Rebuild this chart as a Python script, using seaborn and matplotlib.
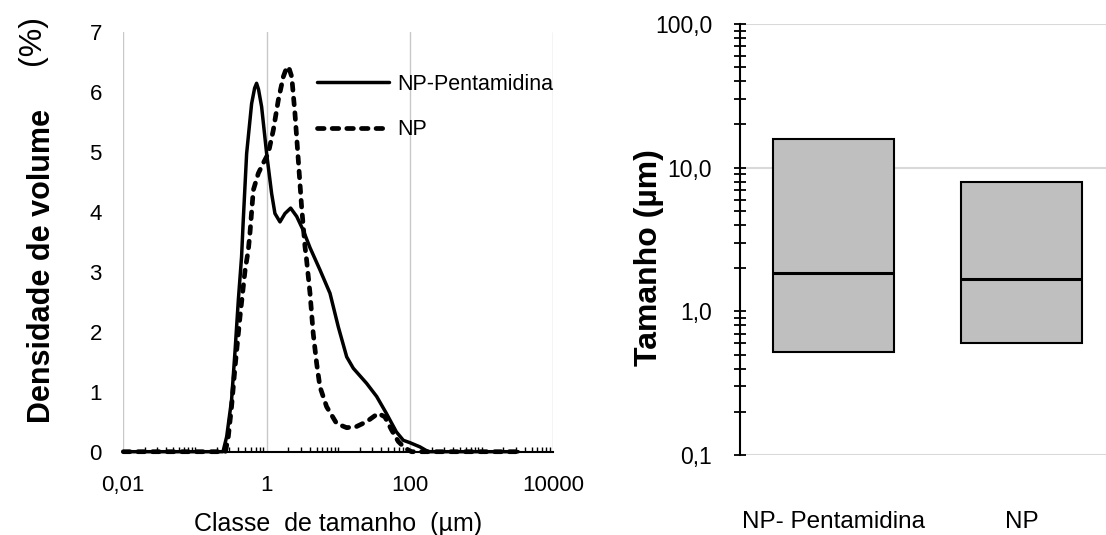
import numpy as np
import pandas as pd
import matplotlib
matplotlib.use("Agg")
import matplotlib.pyplot as plt
import seaborn as sns
from matplotlib.ticker import FixedLocator, FixedFormatter, LogLocator, NullFormatter

# ---------------- Left panel: volume density distribution ----------------
np_pent_size = [0.01, 0.246, 0.277, 0.324, 0.363, 0.403, 0.447, 0.472, 0.526, 0.617,
                0.68, 0.724, 0.77, 0.851, 1.0, 1.175, 1.306, 1.535, 1.803, 2.163,
                2.63, 3.24, 4.03, 5.55, 7.66, 10.0, 13.1, 16.2, 24.8, 34.3,
                46.8, 64.6, 80.7, 100.0, 138.0, 180.0, 3240.0]
np_pent_vol = [0.0, 0.0, 0.25, 0.86, 1.69, 2.53, 3.25, 3.86, 4.97, 5.8,
               6.06, 6.14, 6.04, 5.75, 4.97, 4.3, 3.97, 3.83, 3.97, 4.06,
               3.92, 3.69, 3.4, 3.03, 2.64, 2.08, 1.58, 1.39, 1.14, 0.92,
               0.64, 0.33, 0.19, 0.15, 0.08, 0.0, 0.0]

np_size = [0.01, 0.266, 0.292, 0.324, 0.363, 0.425, 0.501, 0.555, 0.585, 0.652,
           0.766, 0.897, 1.054, 1.239, 1.455, 1.71, 1.86, 1.963, 2.08, 2.239,
           2.483, 2.767, 3.076, 3.428, 3.614, 4.03, 4.467, 4.989, 5.546, 6.87,
           9.48, 13.1, 18.0, 24.8, 36.1, 44.7, 55.5, 68.7, 85.1, 105.0, 3240.0]
np_vol = [0.0, 0.0, 0.25, 0.75, 1.42, 2.25, 3.03, 3.36, 3.64, 4.36,
          4.64, 4.81, 4.97, 5.36, 5.86, 6.25, 6.37, 6.42, 6.37, 6.25,
          5.64, 4.86, 4.08, 3.42, 3.19, 2.64, 1.97, 1.47, 1.08, 0.75,
          0.47, 0.40, 0.42, 0.50, 0.64, 0.58, 0.36, 0.17, 0.06, 0.0, 0.0]

series_labels = ["NP-Pentamidina", "NP"]
x_tick_values = [0.01, 1, 100, 10000]
x_tick_labels = ["0,01", "1", "100", "10000"]
y_tick_values = [0, 1, 2, 3, 4, 5, 6, 7]
y_tick_labels = ["0", "1", "2", "3", "4", "5", "6", "7"]

# ---------------- Right panel: D10 / D50 / D90 boxes ----------------
categories = ["NP- Pentamidina", "NP"]
d10 = [0.52, 0.60]
d50 = [1.84, 1.68]
d90 = [15.8, 7.9]
size_tick_values = [0.1, 1, 10, 100]
size_tick_labels = ["0,1", "1,0", "10,0", "100,0"]

# ---------------- Figure ----------------
sns.set_theme(style="white")
plt.rcParams["font.family"] = ["Liberation Sans", "DejaVu Sans"]

W, H = 1106, 535
fig = plt.figure(figsize=(W / 100, H / 100), dpi=100)

def ax_rect(l, t, r, b):
    return [l / W, (H - b) / H, (r - l) / W, (b - t) / H]

ax1 = fig.add_axes(ax_rect(123.3, 31.7, 553.3, 451.7))
ax2 = fig.add_axes(ax_rect(740, 24, 1106, 455))

# Left panel
ax1.set_xscale("log")
sns.lineplot(x=np_pent_size, y=np_pent_vol, ax=ax1, color="black", linewidth=2.5,
             label=series_labels[0], estimator=None, sort=False,
             solid_capstyle="round", solid_joinstyle="round",
             clip_on=False, zorder=4)
sns.lineplot(x=np_size, y=np_vol, ax=ax1, color="black", linewidth=3.4,
             label=series_labels[1], estimator=None, sort=False,
             linestyle=(0, (1.4, 1.7)), dash_capstyle="round", dash_joinstyle="round",
             clip_on=False, zorder=5)

ax1.set_xlim(0.01, 10000)
ax1.set_ylim(0, 7)
ax1.xaxis.set_major_locator(FixedLocator(x_tick_values))
ax1.xaxis.set_major_formatter(FixedFormatter(x_tick_labels))
ax1.xaxis.set_minor_locator(LogLocator(base=10, subs=np.arange(1, 10), numticks=100))
ax1.xaxis.set_minor_formatter(NullFormatter())
ax1.yaxis.set_major_locator(FixedLocator(y_tick_values))
ax1.yaxis.set_major_formatter(FixedFormatter(y_tick_labels))
ax1.tick_params(axis="x", which="major", length=0, pad=17, labelsize=16, colors="black")
ax1.tick_params(axis="x", which="minor", bottom=True, direction="in", length=3.6,
                width=1.0, color="black")
ax1.tick_params(axis="y", which="both", length=0, pad=15.5, labelsize=16, colors="black")
ax1.grid(axis="x", which="major", color="#c8c8c8", linewidth=1.0)
ax1.grid(axis="y", visible=False)
for s in ["left", "top", "right"]:
    ax1.spines[s].set_visible(False)
ax1.spines["bottom"].set_color("black")
ax1.spines["bottom"].set_linewidth(1.5)
ax1.set_xlabel("Classe  de tamanho  (µm)", fontsize=18, color="black", labelpad=11)
ax1.set_ylabel("")
leg = ax1.legend(loc="upper left", bbox_to_anchor=(0.45, 0.900), frameon=False,
                 fontsize=15.5, handlelength=3.35, handletextpad=0.37,
                 labelspacing=1.14, borderpad=0, borderaxespad=0)
for t in leg.get_texts():
    t.set_color("black")

fig.text(50 / W, (H - 423) / H, "Densidade de volume", rotation=90,
         rotation_mode="anchor", ha="left", va="baseline",
         fontsize=22, fontweight="bold", color="black")
fig.text(40 / W, (H - 65) / H, "(%)", rotation=90,
         rotation_mode="anchor", ha="left", va="baseline",
         fontsize=23, color="black")

# Right panel
rows = []
for cat, a, b, c in zip(categories, d10, d50, d90):
    for v in (a, a, b, c, c):
        rows.append({"amostra": cat, "tamanho": v})
df_box = pd.DataFrame(rows)

ax2.set_yscale("log")
sns.boxplot(data=df_box, x="amostra", y="tamanho", order=categories, ax=ax2,
            width=0.644, color="#bfbfbf", linecolor="black", linewidth=1.5,
            whis=0, showcaps=False, fliersize=0, saturation=1,
            medianprops=dict(linewidth=2.2, color="black"))
ax2.set_ylim(0.1, 100)
ax2.set_xlim(-0.5, 1.45)
ax2.yaxis.set_major_locator(FixedLocator(size_tick_values))
ax2.yaxis.set_major_formatter(FixedFormatter(size_tick_labels))
ax2.yaxis.set_minor_locator(LogLocator(base=10, subs=np.arange(2, 10), numticks=100))
ax2.yaxis.set_minor_formatter(NullFormatter())
ax2.tick_params(axis="y", which="both", left=True, direction="inout", length=8,
                width=1.3, color="black", labelsize=16.5, pad=16, labelcolor="black")
ax2.tick_params(axis="x", length=0, pad=40, labelsize=17.5, labelcolor="black")
ax2.grid(axis="y", which="major", color="#d9d9d9", linewidth=1.5)
ax2.grid(axis="y", which="minor", visible=False)
ax2.grid(axis="x", visible=False)
ax2.set_axisbelow(True)
fig.canvas.draw()
ax2.yaxis.get_major_ticks()[1].gridline.set_visible(False)
for s in ["bottom", "top", "right"]:
    ax2.spines[s].set_visible(False)
ax2.spines["left"].set_color("black")
ax2.spines["left"].set_linewidth(1.5)
ax2.set_xlabel("")
ax2.set_ylabel("")
fig.text(657 / W, (H - 366) / H, "Tamanho (µm)", rotation=90,
         rotation_mode="anchor", ha="left", va="baseline",
         fontsize=23, fontweight="bold", color="black")

fig.savefig("out.png", dpi=100)
